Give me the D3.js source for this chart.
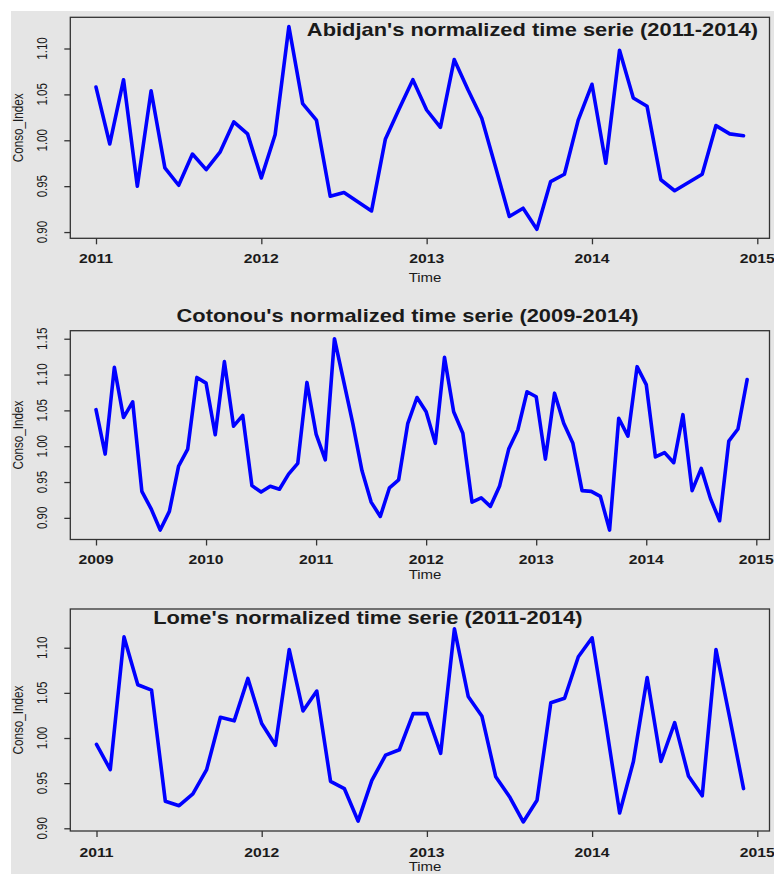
<!DOCTYPE html>
<html>
<head>
<meta charset="utf-8">
<script src="https://cdn.jsdelivr.net/npm/d3@7"></script>
<style>
  html, body { margin: 0; padding: 0; background: #ffffff; }
  svg { display: block; }
  text { font-family: "Liberation Sans", Arial, sans-serif; fill: #1a1a1a; }
</style>
</head>
<body>
<svg id="chart" width="774" height="874"></svg>
<script>
// Monthly normalized consumption index, three cities
const abidjanStart = 2011;
const abidjanValues = [
  1.058, 0.996, 1.066, 0.950, 1.054, 0.970, 0.951, 0.985, 0.968, 0.987, 1.020, 1.007,
  0.959, 1.006, 1.124, 1.040, 1.022, 0.939, 0.943, 0.933, 0.923, 1.001, 1.034, 1.066,
  1.033, 1.014, 1.088, 1.055, 1.024, 0.971, 0.917, 0.926, 0.903, 0.955, 0.963, 1.022,
  1.061, 0.975, 1.098, 1.046, 1.037, 0.957, 0.945, 0.954, 0.963, 1.016, 1.007, 1.005
];

const cotonouStart = 2009;
const cotonouValues = [
  1.051, 0.989, 1.110, 1.040, 1.062, 0.937, 0.913, 0.883, 0.909, 0.972, 0.996, 1.096,
  1.088, 1.016, 1.118, 1.028, 1.043, 0.945, 0.936, 0.944, 0.940, 0.961, 0.976, 1.089,
  1.017, 0.981, 1.150, 1.091, 1.032, 0.966, 0.922, 0.902, 0.942, 0.953, 1.032, 1.068,
  1.048, 1.004, 1.124, 1.048, 1.018, 0.922, 0.928, 0.916, 0.944, 0.996, 1.023, 1.076,
  1.069, 0.982, 1.074, 1.032, 1.004, 0.938, 0.937, 0.930, 0.883, 1.039, 1.014, 1.111,
  1.086, 0.985, 0.991, 0.977, 1.044, 0.938, 0.969, 0.927, 0.896, 1.007, 1.024, 1.093
];

const lomeStart = 2011;
const lomeValues = [
  0.993, 0.965, 1.112, 1.059, 1.053, 0.930, 0.925, 0.938, 0.965, 1.023, 1.019, 1.066,
  1.016, 0.992, 1.098, 1.030, 1.052, 0.952, 0.944, 0.908, 0.953, 0.981, 0.987, 1.027,
  1.027, 0.983, 1.121, 1.046, 1.024, 0.957, 0.935, 0.907, 0.931, 1.039, 1.044, 1.090,
  1.111, 1.016, 0.917, 0.974, 1.067, 0.974, 1.017, 0.958, 0.936, 1.098, 1.022, 0.944
];

const titles = [
  "Abidjan's normalized time serie (2011-2014)",
  "Cotonou's normalized time serie (2009-2014)",
  "Lome's normalized time serie (2011-2014)"
];
const yTickSets = [
  [0.90, 0.95, 1.00, 1.05, 1.10],
  [0.90, 0.95, 1.00, 1.05, 1.10, 1.15],
  [0.90, 0.95, 1.00, 1.05, 1.10]
];
const yearTicksShort = [2011, 2012, 2013, 2014, 2015];
const yearTicksLong = [2009, 2010, 2011, 2012, 2013, 2014, 2015];
const yLabel = "Conso_Index";
const xLabel = "Time";

// Panel geometry
const SX = 1.25; // horizontal stretch of the rendered glyphs
const frameLeft = 70.3, frameRight = 769.5;

const panels = [
  {
    start: abidjanStart, values: abidjanValues, title: titles[0], yTicks: yTickSets[0], years: yearTicksShort,
    top: 17.3, bottom: 238.3, yDomain: [0.8932, 1.134], xRange: [96.0, 757.3],
    titleX: 532.4, titleY: 36, tickLabelY: 263.3, xLabelX: 425, xLabelY: 281.7
  },
  {
    start: cotonouStart, values: cotonouValues, title: titles[1], yTicks: yTickSets[1], years: yearTicksLong,
    top: 330.7, bottom: 539.5, yDomain: [0.8698, 1.1612], xRange: [96.0, 756.3],
    titleX: 407.5, titleY: 322.3, tickLabelY: 564.3, xLabelX: 425, xLabelY: 579
  },
  {
    start: lomeStart, values: lomeValues, title: titles[2], yTicks: yTickSets[2], years: yearTicksShort,
    top: 609, bottom: 831, yDomain: [0.897, 1.1429], xRange: [96.5, 757.3],
    titleX: 367.8, titleY: 624, tickLabelY: 856.7, xLabelX: 425, xLabelY: 870.5
  }
];

const svg = d3.select("#chart");

svg.append("rect")
  .attr("x", 11).attr("y", 11)
  .attr("width", 774 - 11).attr("height", 874 - 11)
  .attr("fill", "#e5e5e5");

panels.forEach(p => {
  const lastYear = p.years[p.years.length - 1];
  const x = d3.scaleLinear().domain([p.years[0], lastYear]).range(p.xRange);
  const y = d3.scaleLinear().domain(p.yDomain).range([p.bottom, p.top]);

  const series = p.values.map((v, i) => ({ t: p.start + i / 12, v }));

  const g = svg.append("g");

  // plot frame
  g.append("rect")
    .attr("x", frameLeft).attr("y", p.top)
    .attr("width", frameRight - frameLeft).attr("height", p.bottom - p.top)
    .attr("fill", "none").attr("stroke", "#333").attr("stroke-width", 1.3);

  // series line
  const line = d3.line().x(d => x(d.t)).y(d => y(d.v));
  g.append("path")
    .datum(series)
    .attr("d", line)
    .attr("fill", "none")
    .attr("stroke", "#0000ff")
    .attr("stroke-width", 3.6)
    .attr("stroke-linejoin", "round")
    .attr("stroke-linecap", "round");

  // x axis ticks
  const xAxis = d3.axisBottom(x).tickValues(p.years).tickSize(6).tickFormat("");
  const xg = g.append("g").attr("transform", `translate(0,${p.bottom})`).call(xAxis);
  xg.select(".domain").remove();
  xg.selectAll(".tick line").attr("stroke", "#333").attr("stroke-width", 1.3);

  g.selectAll(".xlab")
    .data(p.years)
    .join("text")
    .attr("transform", d => `translate(${x(d)},${p.tickLabelY}) scale(${SX},1)`)
    .attr("text-anchor", "middle")
    .style("font-size", "12.6px")
    .style("font-weight", "bold")
    .text(d => d);

  // y axis ticks
  const yAxis = d3.axisLeft(y).tickValues(p.yTicks).tickSize(6).tickFormat("");
  const yg = g.append("g").attr("transform", `translate(${frameLeft},0)`).call(yAxis);
  yg.select(".domain").remove();
  yg.selectAll(".tick line").attr("stroke", "#333").attr("stroke-width", 1.3);

  g.selectAll(".ylab")
    .data(p.yTicks)
    .join("text")
    .attr("transform", d => `translate(46.5,${y(d)}) scale(${SX},1) rotate(-90)`)
    .attr("text-anchor", "middle")
    .style("font-size", "11.5px")
    .text(d => d.toFixed(2));

  // axis titles
  g.append("text")
    .attr("transform", `translate(22.5,${(p.top + p.bottom) / 2}) scale(${SX},1) rotate(-90)`)
    .attr("text-anchor", "middle")
    .style("font-size", "11.7px")
    .text(yLabel);

  g.append("text")
    .attr("transform", `translate(${p.xLabelX},${p.xLabelY}) scale(${SX},1)`)
    .attr("text-anchor", "middle")
    .style("font-size", "12px")
    .text(xLabel);

  // main title
  g.append("text")
    .attr("transform", `translate(${p.titleX},${p.titleY}) scale(${SX},1)`)
    .attr("text-anchor", "middle")
    .style("font-size", "17.5px")
    .style("font-weight", "bold")
    .text(p.title);
});
</script>
</body>
</html>
